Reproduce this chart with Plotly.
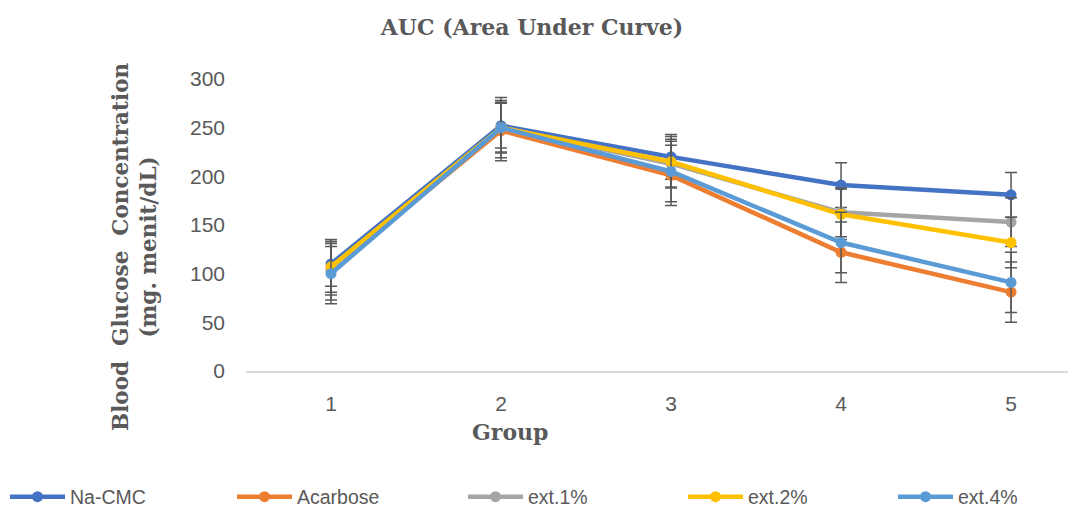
import plotly.graph_objects as go

groups = [1, 2, 3, 4, 5]
series_names = ["Na-CMC", "Acarbose", "ext.1%", "ext.2%", "ext.4%"]
na_cmc = [110, 252, 220, 191, 181]
acarbose = [104, 247, 201, 122, 81]
ext1 = [103, 250, 213, 163, 153]
ext2 = [107, 250, 215, 161, 132]
ext4 = [100, 250, 205, 132, 91]
se_na_cmc = [23, 23, 23, 23, 23]
se_acarbose = [31, 31, 31, 31, 31]
se_ext1 = [25, 25, 25, 25, 25]
se_ext2 = [26, 26, 26, 26, 26]
se_ext4 = [31, 31, 31, 31, 31]
y_ticks = [0, 50, 100, 150, 200, 250, 300]

colors = ["#4472C4", "#ED7D31", "#A5A5A5", "#FFC000", "#5B9BD5"]
values = [na_cmc, acarbose, ext1, ext2, ext4]
errors = [se_na_cmc, se_acarbose, se_ext1, se_ext2, se_ext4]
legend_left_px = [10, 237, 468, 688, 898]

fig = go.Figure()
legend_ids = ["legend", "legend2", "legend3", "legend4", "legend5"]
for name, vals, err, col, lid in zip(series_names, values, errors, colors, legend_ids):
    fig.add_trace(go.Scatter(
        x=groups, y=vals, name=name, mode="lines+markers",
        line=dict(color=col, width=4.5),
        marker=dict(color=col, size=11),
        error_y=dict(type="data", array=err, visible=True,
                     color="#595959", thickness=1.5, width=6),
        legend=lid,
    ))

serif = "DejaVu Serif"
legend_font = dict(family="Liberation Sans", size=19.5, color="#595959")
legends = {}
for lid, px in zip(legend_ids, legend_left_px):
    legends[lid] = dict(orientation="h", xref="container", yref="container",
                        x=(px - 5) / 1068, xanchor="left", y=1 - 497 / 507,
                        yanchor="middle", itemwidth=55, font=legend_font,
                        bgcolor="rgba(0,0,0,0)")

fig.update_layout(
    width=1068, height=507,
    paper_bgcolor="white", plot_bgcolor="white",
    margin=dict(l=246, r=0, t=79, b=136),
    title=dict(text="<b>AUC (Area Under Curve)</b>", x=532/1068, xanchor="center",
               xref="container", yref="container", y=1-27/507, yanchor="middle",
               font=dict(family=serif, size=22, color="#595959")),
    xaxis=dict(range=[0.5, 5.335], tickvals=groups, ticktext=[str(g) for g in groups],
               showgrid=False, zeroline=False, showline=True, linecolor="#D9D9D9",
               linewidth=1.5, ticks="", ticklabelstandoff=13,
               tickfont=dict(family="Liberation Sans", size=21, color="#595959")),
    yaxis=dict(range=[0, 300], tickvals=y_ticks, showgrid=False, zeroline=False,
               showline=False, ticks="", ticklabelstandoff=20,
               tickfont=dict(family="Liberation Sans", size=21, color="#595959")),
    showlegend=True,
    annotations=[
        dict(text="<b>Blood  Glucose  Concentration</b><br><b>(mg. menit/dL)</b>",
             xref="paper", yref="paper", x=(134-246)/822, y=(371-247)/292,
             xanchor="center", yanchor="middle", textangle=-90, showarrow=False,
             font=dict(family=serif, size=21.5, color="#595959")),
        dict(text="<b>Group</b>", xref="paper", yref="paper",
             x=(510-246)/822, y=(371-432)/292, xanchor="center", yanchor="middle",
             showarrow=False, font=dict(family=serif, size=22, color="#595959")),
    ],
    **legends,
)

fig.write_html("out.html", config={"displayModeBar": False},
               post_script="document.body.style.margin='0';")
